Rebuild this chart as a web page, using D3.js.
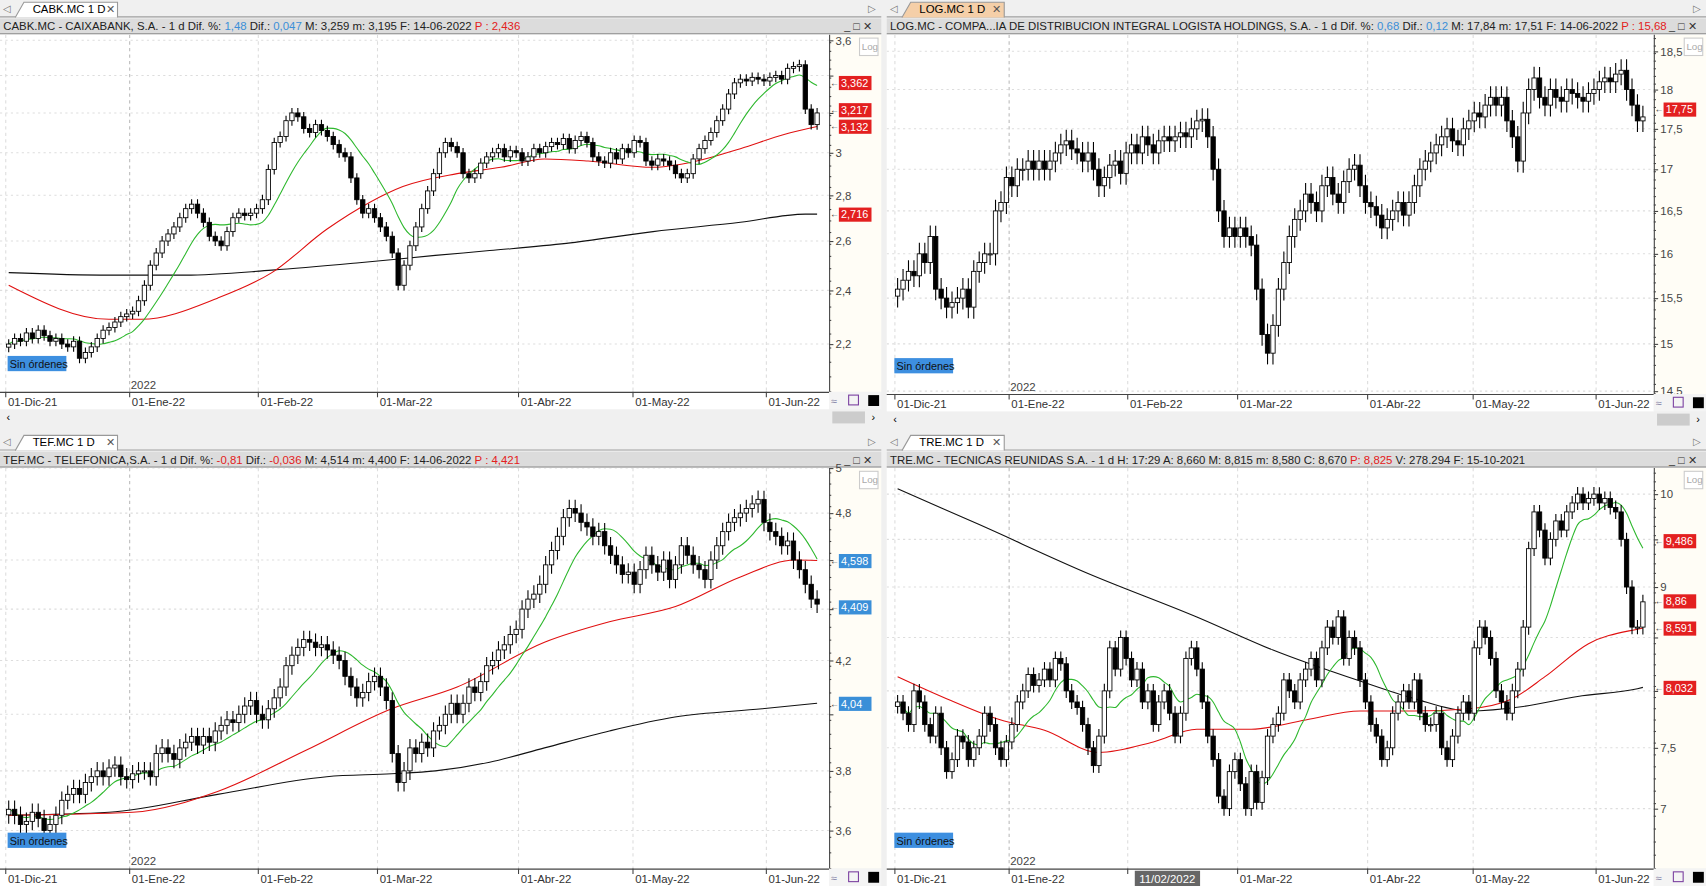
<!DOCTYPE html>
<html><head><meta charset="utf-8">
<script src="https://cdn.jsdelivr.net/npm/d3@7/dist/d3.min.js"></script>
<style>body{margin:0;background:#f0f0f0;overflow:hidden}text{font-family:"Liberation Sans Narrow","Liberation Sans",Arial,sans-serif}</style>
</head><body>
<svg id="c" width="1706" height="886" viewBox="0 0 1568 814" preserveAspectRatio="none"></svg>
<script>
const monthLabels=["01-Dic-21","01-Ene-22","01-Feb-22","01-Mar-22","01-Abr-22","01-May-22","01-Jun-22"];
const monthIdx=[-0.5,20.5,42.3,62.5,86.4,105.8,128.4];

const cabkClose=[2.20,2.22,2.21,2.24,2.22,2.25,2.23,2.21,2.22,2.20,2.19,2.21,2.15,2.17,2.19,2.22,2.25,2.26,2.28,2.30,2.31,2.32,2.36,2.42,2.50,2.55,2.60,2.63,2.66,2.70,2.74,2.76,2.72,2.68,2.62,2.60,2.58,2.64,2.70,2.72,2.71,2.72,2.74,2.78,2.92,3.05,3.08,3.16,3.20,3.18,3.12,3.10,3.14,3.11,3.08,3.04,3.00,2.98,2.88,2.78,2.72,2.74,2.70,2.66,2.62,2.55,2.42,2.50,2.58,2.66,2.74,2.82,2.90,3.00,3.05,3.03,3.00,2.90,2.88,2.90,2.95,2.98,3.00,3.02,2.98,3.01,3.00,2.96,2.98,3.02,3.00,3.03,3.05,3.04,3.07,3.02,3.06,3.08,3.05,2.98,2.96,2.95,3.00,2.97,3.02,3.00,3.06,3.05,2.96,2.94,2.97,2.96,2.94,2.90,2.88,2.90,2.97,3.02,3.06,3.10,3.16,3.22,3.30,3.36,3.38,3.37,3.39,3.38,3.37,3.39,3.40,3.38,3.44,3.45,3.46,3.22,3.14,3.20];
const cabkRed=[[0,2.42],[17,2.29],[22.5,2.29],[35.4,2.37],[44.6,2.47],[53.9,2.65],[61.3,2.77],[66.8,2.84],[76,2.90],[83.4,2.93],[90.8,2.97],[98.2,2.96],[109.2,2.93],[116.6,2.96],[124,3.02],[131.4,3.09],[137,3.13]];
const cabkBlack=[[0,2.47],[17,2.46],[29.9,2.46],[44.6,2.48],[59.4,2.51],[72.3,2.54],[81.5,2.56],[94.5,2.59],[109.2,2.64],[124,2.68],[135,2.716],[137,2.716]];

const logClose=[15.6,15.7,15.8,15.75,16.0,15.9,16.2,15.6,15.5,15.4,15.45,15.5,15.6,15.4,15.8,15.9,16.0,16.0,16.5,16.6,16.9,16.8,17.0,17.0,17.1,17.0,17.1,17.0,17.1,17.2,17.3,17.35,17.25,17.2,17.1,17.2,17.0,16.8,16.9,17.05,17.1,16.95,17.2,17.3,17.2,17.4,17.3,17.2,17.35,17.4,17.35,17.4,17.45,17.4,17.5,17.6,17.62,17.4,17.0,16.5,16.2,16.3,16.2,16.3,16.2,16.1,15.6,15.1,14.9,15.2,15.6,15.9,16.2,16.4,16.5,16.7,16.6,16.5,16.8,16.9,16.7,16.6,16.85,17.0,17.05,16.8,16.6,16.55,16.45,16.3,16.4,16.5,16.6,16.45,16.6,16.8,17.0,17.1,17.2,17.3,17.4,17.5,17.35,17.3,17.5,17.6,17.7,17.65,17.8,17.9,17.8,17.9,17.6,17.4,17.1,17.7,18.0,18.15,17.9,17.8,18.0,17.9,17.85,18.0,17.95,17.9,17.85,17.95,18.0,18.1,18.15,18.1,18.2,18.25,18.0,17.8,17.6,17.65];

const tefClose=[3.67,3.65,3.62,3.63,3.66,3.64,3.60,3.62,3.65,3.70,3.72,3.74,3.72,3.76,3.78,3.80,3.78,3.81,3.82,3.78,3.77,3.79,3.80,3.80,3.78,3.86,3.88,3.86,3.84,3.88,3.90,3.92,3.89,3.92,3.90,3.94,3.96,3.98,3.97,4.00,4.03,4.05,4.00,3.98,4.02,4.06,4.10,4.18,4.22,4.25,4.28,4.27,4.25,4.26,4.24,4.22,4.20,4.14,4.10,4.06,4.08,4.12,4.14,4.10,4.05,3.86,3.76,3.80,3.88,3.86,3.90,3.88,3.94,3.96,4.00,4.04,4.00,4.04,4.10,4.08,4.12,4.18,4.20,4.24,4.26,4.30,4.32,4.40,4.44,4.46,4.50,4.58,4.64,4.70,4.78,4.82,4.80,4.76,4.74,4.70,4.72,4.66,4.62,4.58,4.54,4.55,4.50,4.56,4.62,4.58,4.55,4.60,4.52,4.58,4.66,4.62,4.58,4.56,4.52,4.60,4.66,4.72,4.76,4.78,4.80,4.82,4.84,4.86,4.76,4.72,4.70,4.66,4.68,4.60,4.56,4.50,4.44,4.42];
const tefRed=[[0,3.65],[21,3.66],[35.4,3.73],[50.2,3.87],[64.9,4.02],[76,4.10],[90.8,4.27],[101.8,4.35],[113,4.41],[124,4.53],[133.2,4.60],[137,4.598]];
const tefBlack=[[0,3.65],[17,3.66],[35.4,3.72],[53.9,3.78],[64.9,3.79],[72.3,3.80],[81.5,3.83],[90.8,3.88],[101.8,3.94],[112.9,3.99],[127.7,4.02],[137,4.04]];

const treClose=[7.9,7.8,7.7,8.0,7.9,7.7,7.6,7.8,7.5,7.3,7.4,7.6,7.55,7.4,7.5,7.6,7.8,7.7,7.5,7.4,7.55,7.7,7.9,8.0,8.15,8.05,8.1,8.2,8.1,8.3,8.25,8.0,7.9,7.85,7.7,7.5,7.35,7.6,8.0,8.4,8.2,8.5,8.3,8.1,8.2,7.9,8.0,7.7,7.9,8.0,7.8,7.6,7.8,8.3,8.4,8.2,7.9,7.6,7.4,7.1,7.0,7.3,7.4,7.2,7.0,7.3,7.05,7.25,7.6,7.7,7.8,8.1,8.0,7.9,8.1,8.2,8.3,8.1,8.4,8.6,8.5,8.7,8.3,8.5,8.4,8.1,7.9,7.7,7.6,7.4,7.5,7.8,7.9,8.0,7.9,8.1,7.8,7.7,7.7,7.8,7.5,7.4,7.6,7.8,7.9,7.8,8.4,8.6,8.5,8.3,8.0,7.9,7.8,8.0,8.2,8.6,9.4,9.8,9.6,9.3,9.5,9.7,9.6,9.8,9.9,10.0,9.9,9.95,10.0,9.9,9.95,9.85,9.8,9.5,9.0,8.6,8.6,8.85];
const treRed=[[0,8.13],[9,7.93],[19,7.74],[27,7.65],[37,7.46],[47,7.55],[55,7.66],[65,7.66],[75,7.74],[85,7.82],[95,7.82],[105,7.84],[113,7.93],[119,8.13],[127,8.44],[136,8.58],[137,8.591]];
const treBlack=[[0,10.06],[15,9.66],[35,9.14],[55,8.70],[69,8.38],[85,8.09],[95,7.93],[105,7.82],[115,7.86],[125,7.95],[136,8.02],[137,8.032]];

const svg=d3.select("#c");
svg.append("rect").attr("width",1568).attr("height",814).attr("fill","#f0f0f0");

function sma(arr,n){return arr.map((v,i)=>{const s=arr.slice(Math.max(0,i-n+1),i+1);return d3.mean(s);});}

function panel(o){
  const g=svg.append("g");
  const L=o.x0,R=o.x1,top=o.y0,pr=R-48;
  g.append("rect").attr("x",L).attr("y",top).attr("width",R-L).attr("height",16).attr("fill","#f0f0f0");
  g.append("line").attr("x1",L).attr("x2",R).attr("y1",top+15.5).attr("y2",top+15.5).attr("stroke","#a0a0a0");
  g.append("text").attr("x",L+3).attr("y",top+11).attr("font-size",9).attr("fill","#777").text("◁");
  g.append("text").attr("x",R-12).attr("y",top+11).attr("font-size",9).attr("fill","#777").text("▷");
  g.append("path").attr("d",`M${L+14},${top+16}L${L+22},${top+2}H${L+108}V${top+16}`).attr("fill",o.tabFill).attr("stroke","#999");
  g.append("text").attr("x",L+30).attr("y",top+12).attr("font-size",10.5).text(o.tab);
  g.append("text").attr("x",L+97).attr("y",top+12).attr("font-size",10).attr("fill","#555").text("✕");
  g.append("rect").attr("x",L).attr("y",top+17).attr("width",R-L).attr("height",14).attr("fill","#dcdcdc");
  g.append("line").attr("x1",L).attr("x2",R).attr("y1",top+31).attr("y2",top+31).attr("stroke","#888");
  const ht=g.append("text").attr("x",L+3).attr("y",top+28).attr("font-size",10.5);
  o.header.forEach(s=>ht.append("tspan").attr("fill",s[1]||"#222").text(s[0]));
  g.append("text").attr("x",R-34).attr("y",top+28).attr("font-size",10).attr("fill","#333").text("_ □ ✕");
  const pb=o.plotBottom;
  g.append("rect").attr("x",L).attr("y",top+32).attr("width",pr-L).attr("height",pb-top-32).attr("fill","#fff");
  g.append("rect").attr("x",pr).attr("y",top+32).attr("width",R-pr).attr("height",pb-top-32).attr("fill","#fffdf6");
  g.append("line").attr("x1",pr+.5).attr("x2",pr+.5).attr("y1",top+32).attr("y2",pb).attr("stroke","#444");
  const y=d3.scaleLog().domain(o.yDomain).range([pb,top+32]);
  const x=d3.scaleLinear().domain([0,137]).range(o.xRange);
  const clip="cl"+o.tab.replace(/\W/g,"");
  svg.append("clipPath").attr("id",clip).append("rect").attr("x",L).attr("y",top+32).attr("width",pr-L).attr("height",pb-top-32);
  const pg=g.append("g").attr("clip-path",`url(#${clip})`);
  o.ticks.forEach(t=>pg.append("line").attr("x1",L).attr("x2",pr).attr("y1",y(t)).attr("y2",y(t)).attr("stroke","#ddd").attr("stroke-dasharray","2,3"));
  monthIdx.forEach((m,i)=>pg.append("line").attr("x1",x(m)).attr("x2",x(m)).attr("y1",top+32).attr("y2",pb).attr("stroke",i==1?"#bbb":"#ddd").attr("stroke-dasharray","3,3"));
  // hide tick labels that sit under a price tag (as in the reference)
  const visTicks=o.ticks.filter(t=>!o.tags.some(tg=>Math.abs(y(tg[0])-y(t))<11));
  const ax=d3.axisRight(y).tickValues(o.ticks).tickFormat(d=>visTicks.includes(d)?String(d).replace(".",","):"").tickSize(4);
  const ag=g.append("g").attr("transform",`translate(${pr},0)`).call(ax);
  ag.select(".domain").remove();
  ag.selectAll("text").attr("font-size",10.5).attr("fill","#444").attr("x",6);
  ag.selectAll("line").attr("stroke","#444");
  const minor=d3.range(o.yDomain[0],o.yDomain[1],o.minorStep);
  g.selectAll(null).data(minor).enter().append("line").attr("x1",pr).attr("x2",pr+2).attr("y1",d=>y(d)).attr("y2",d=>y(d)).attr("stroke","#444");
  g.append("rect").attr("x",R-20).attr("y",top+35).attr("width",17).attr("height",16).attr("fill","#fff").attr("stroke","#ccc");
  g.append("text").attr("x",R-18).attr("y",top+46).attr("font-size",9).attr("fill","#aaa").text("Log");
  const line=d3.line().x(d=>x(d[0])).y(d=>y(d[1])).curve(d3.curveMonotoneX);
  if(o.black) pg.append("path").attr("d",line(o.black)).attr("fill","none").attr("stroke","#111").attr("stroke-width",1);
  if(o.red) pg.append("path").attr("d",line(o.red)).attr("fill","none").attr("stroke","#e01010").attr("stroke-width",1);
  if(o.green){const gr=sma(o.close,10).map((v,i)=>[i,v]);pg.append("path").attr("d",line(gr)).attr("fill","none").attr("stroke","#2eb82e").attr("stroke-width",1);}
  const cd=o.close.map((c,i)=>{const op=i?o.close[i-1]:c*0.995;const w=c*0.008;return{i,o:op,c,h:Math.max(op,c)+w,l:Math.min(op,c)-w};});
  const cg=pg.selectAll(null).data(cd).enter().append("g");
  cg.append("line").attr("x1",d=>x(d.i)).attr("x2",d=>x(d.i)).attr("y1",d=>y(d.h)).attr("y2",d=>y(d.l)).attr("stroke","#000");
  cg.append("rect").attr("x",d=>x(d.i)-2).attr("width",4).attr("y",d=>y(Math.max(d.o,d.c))).attr("height",d=>Math.max(1,Math.abs(y(d.o)-y(d.c)))).attr("fill",d=>d.c>=d.o?"#fff":"#000").attr("stroke","#000").attr("stroke-width",0.8);
  o.tags.forEach(t=>{const ty=y(t[0]);
    g.append("text").attr("x",pr+1).attr("y",ty+3).attr("font-size",8).attr("fill","#333").text("←");
    g.append("rect").attr("x",pr+9).attr("y",ty-6).attr("width",30).attr("height",13).attr("fill",t[1]);
    g.append("text").attr("x",pr+11).attr("y",ty+4).attr("font-size",10).attr("fill","#fff").text(String(t[0]).replace(".",","));});
  g.append("rect").attr("x",L+7).attr("y",pb-33).attr("width",54).attr("height",14).attr("fill","#3d8fe0");
  g.append("text").attr("x",L+9).attr("y",pb-22).attr("font-size",10).attr("fill","#111").text("Sin órdenes");
  g.append("text").attr("x",x(monthIdx[1])+1).attr("y",pb-3).attr("font-size",10.5).attr("fill","#444").text("2022");
  g.append("rect").attr("x",L).attr("y",pb).attr("width",pr-L).attr("height",16).attr("fill","#fff");
  g.append("line").attr("x1",L).attr("x2",pr).attr("y1",pb+.5).attr("y2",pb+.5).attr("stroke","#444");
  monthIdx.forEach((m,i)=>{g.append("line").attr("x1",x(m)).attr("x2",x(m)).attr("y1",pb).attr("y2",pb+5).attr("stroke","#444");
    if(o.hl && i===2) return;
    g.append("text").attr("x",x(m)+2).attr("y",pb+13).attr("font-size",10.5).attr("fill","#333").text(monthLabels[i]);});
  if(o.hl){g.append("rect").attr("x",L+228).attr("y",pb+2).attr("width",60).attr("height",14).attr("fill","#666");
    g.append("text").attr("x",L+232).attr("y",pb+13).attr("font-size",10.5).attr("fill","#fff").text(o.hl);}
  g.append("rect").attr("x",pr).attr("y",pb).attr("width",R-pr).attr("height",16).attr("fill","#f4f4f4");
  g.append("text").attr("x",pr+2).attr("y",pb+12).attr("font-size",10).attr("fill","#88a").text("≈");
  g.append("rect").attr("x",pr+18).attr("y",pb+3).attr("width",9).attr("height",9).attr("fill","none").attr("stroke","#7a3fa0");
  g.append("rect").attr("x",R-12).attr("y",pb+3).attr("width",10).attr("height",10).attr("fill","#000");
  if(o.scroll){g.append("rect").attr("x",L).attr("y",pb+17).attr("width",R-L).attr("height",13).attr("fill","#f0f0f0");
    g.append("text").attr("x",L+6).attr("y",pb+27).attr("font-size",10).text("‹");
    g.append("rect").attr("x",R-45).attr("y",pb+18).attr("width",30).attr("height",11).attr("fill","#ccc");
    g.append("text").attr("x",R-9).attr("y",pb+27).attr("font-size",10).text("›");}
}
const B="#3a8fd8",Rd="#e32020";
panel({x0:0,x1:810,y0:0,plotBottom:360,tab:"CABK.MC 1 D",tabFill:"#fff",yDomain:[2.036,3.632],ticks:[2.2,2.4,2.6,2.8,3,3.2,3.4,3.6],minorStep:0.05,xRange:[8,751],close:cabkClose,red:cabkRed,black:cabkBlack,green:true,
  header:[["CABK.MC - CAIXABANK, S.A. -  1 d  Dif. %: "],["1,48",B],["  Dif.: "],["0,047",B],["  M: 3,259  m: 3,195  F: 14-06-2022  "],["P : 2,436",Rd]],
  tags:[[3.362,Rd],[3.217,Rd],[3.132,Rd],[2.716,Rd]],scroll:true});
panel({x0:815,x1:1568,y0:0,plotBottom:362,tab:"LOG.MC 1 D",tabFill:"#f5cfa8",yDomain:[14.47,18.72],ticks:[14.5,15,15.5,16,16.5,17,17.5,18,18.5],minorStep:0.1,xRange:[825,1510],close:logClose,green:false,
  header:[["LOG.MC - COMPA...IA DE DISTRIBUCION INTEGRAL LOGISTA HOLDINGS, S.A. -  1 d  Dif. %: "],["0,68",B],["  Dif.: "],["0,12",B],["  M: 17,84  m: 17,51  F: 14-06-2022  "],["P : 15,68",Rd]],
  tags:[[17.75,Rd]],scroll:true});
panel({x0:0,x1:810,y0:398,plotBottom:798,tab:"TEF.MC 1 D",tabFill:"#fff",yDomain:[3.478,5.0],ticks:[3.6,3.8,4,4.2,4.4,4.6,4.8,5],minorStep:0.05,xRange:[8,751],close:tefClose,red:tefRed,black:tefBlack,green:true,
  header:[["TEF.MC - TELEFONICA,S.A. -  1 d  Dif. %: "],["-0,81",Rd],["  Dif.: "],["-0,036",Rd],["  M: 4,514  m: 4,400  F: 14-06-2022  "],["P : 4,421",Rd]],
  tags:[[4.598,B],[4.409,B],[4.04,B]]});
panel({x0:815,x1:1568,y0:398,plotBottom:798,tab:"TRE.MC 1 D",tabFill:"#fff",yDomain:[6.54,10.3],ticks:[7,7.5,8,8.5,9,9.5,10],minorStep:0.1,xRange:[825,1510],close:treClose,red:treRed,black:treBlack,green:true,hl:"11/02/2022",
  header:[["TRE.MC - TECNICAS REUNIDAS S.A. -  1 d  H: 17:29  A: 8,660  M: 8,815  m: 8,580  C: 8,670  "],["P: 8,825",Rd],["  V: 278.294  F: 15-10-2021"]],
  tags:[[9.486,Rd],[8.86,Rd],[8.591,Rd],[8.032,Rd]]});
</script></body></html>
